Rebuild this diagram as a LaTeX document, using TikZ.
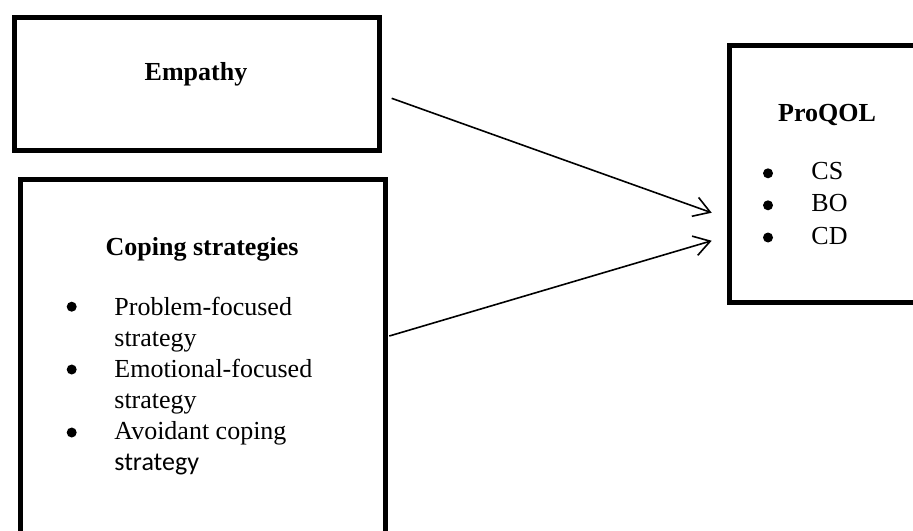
\documentclass[tikz,border=0pt]{standalone}
\usepackage{fontspec}
\setmainfont{Liberation Serif}
\newfontfamily\calibri{Carlito}
\usepackage{tikz}
\usetikzlibrary{calc}
\usetikzlibrary{arrows.meta}
\usetikzlibrary{positioning}
\tikzset{>={Straight Barb[length=8pt,width=10pt]}}
\tikzstyle{box} = [rectangle, draw=black, line width=2.5pt, inner sep=0pt, outer sep=0pt, anchor=north west]
\tikzstyle{head} = [font=\fontsize{13}{15.5}\selectfont\bfseries, anchor=base, inner sep=0pt]
\tikzstyle{list} = [anchor=base west, inner sep=0pt]
\tikzstyle{dot} = [circle, fill=black, inner sep=0pt, minimum size=5pt]

\begin{document}
\begin{tikzpicture}[x=0.5pt, y=-0.5pt]
\clip (0,0) rectangle (913,530);
\node [box, minimum width=182.5pt, minimum height=66.5pt] (emp) at (14,17) {};
\node [box, minimum width=182.5pt, minimum height=183pt] (cope) at (20,179) {};
\node [box, minimum width=105.5pt, minimum height=128.25pt] (qol) at (729,45.5) {};
\node [head] (empT) at (196,80) {Empathy};
\node [head] (copeT) at (202,255) {Coping strategies};
\node [head] (qolT) at (827,121) {ProQOL};
% bullets
\node [dot] (c1) at (71.7,306.7) {};
\node [dot] (c2) at (71.7,369.5) {};
\node [dot] (c3) at (71.7,432.5) {};
\node [dot] (q1) at (768,173.3) {};
\node [dot] (q2) at (768,205.3) {};
\node [dot] (q3) at (768,237.5) {};
\node [list, font=\fontsize{13}{15.5}\selectfont] (copeL) at (114,315) {%
\begin{tabular}[t]{@{}l@{}}
Problem-focused\\
strategy\\
Emotional-focused\\
strategy\\
Avoidant coping\\
{\calibri strategy}
\end{tabular}};
\node [list, font=\fontsize{13}{16.3}\selectfont] (qolL) at (811,179) {%
\begin{tabular}[t]{@{}l@{}}
CS\\
BO\\
CD
\end{tabular}};
\draw [->, line width=0.8pt] ($(emp.east)+(12.7,14.8)$) -- ($(qol.west)+(-17.3,39)$);
\draw [->, line width=0.8pt] ($(cope.north east)+(4.3,157)$) -- ($(qol.west)+(-17.3,67)$);
\end{tikzpicture}
\end{document}
